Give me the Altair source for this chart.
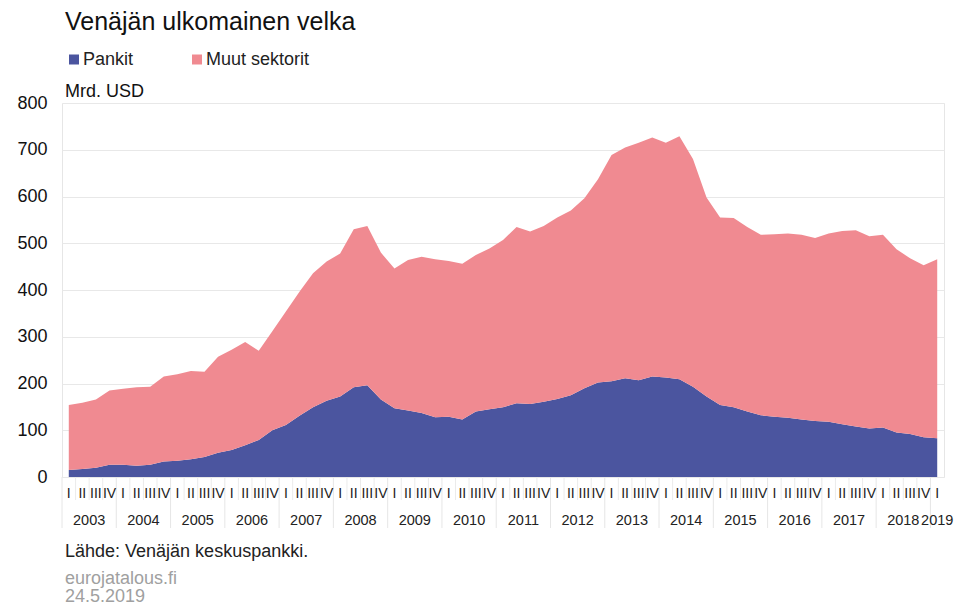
import altair as alt
import pandas as pd

FONT = "Liberation Sans"
BLUE = "#4B559F"
PINK = "#F08A91"

title_text = "Venäjän ulkomainen velka"
unit_text = "Mrd. USD"
source_text = "Lähde: Venäjän keskuspankki."
site_text = "eurojatalous.fi"
date_text = "24.5.2019"

quarters = ["I", "II", "III", "IV"]
years = ["2003", "2004", "2005", "2006", "2007", "2008", "2009", "2010", "2011",
         "2012", "2013", "2014", "2015", "2016", "2017", "2018", "2019"]
series = ["Pankit", "Muut sektorit"]

# quarterly values, 2003 Q1 ... 2019 Q1 (Mrd. USD)
pankit = [15, 17, 20, 26, 26, 24, 26, 33, 35, 38, 43, 52, 58, 68, 79, 100,
          111, 131, 149, 163, 172, 192, 196, 166, 147, 142, 137, 128, 129, 123, 140, 145,
          149, 158, 156, 161, 167, 175, 190, 202, 205, 211, 207, 215, 213, 209, 193, 172,
          154, 149, 140, 132, 129, 127, 123, 120, 118, 113, 108, 104, 106, 95, 92, 85,
          83]
muut = [139, 142, 146, 159, 163, 168, 167, 182, 185, 189, 182, 205, 214, 221, 191, 212,
        243, 265, 287, 298, 306, 338, 341, 314, 299, 322, 334, 338, 333, 333, 335, 344,
        358, 377, 369, 376, 388, 395, 406, 435, 484, 494, 508, 511, 502, 520, 487, 426,
        401, 405, 395, 386, 390, 394, 395, 391, 403, 413, 420, 411, 412, 392, 376, 368,
        383]

n = len(pankit)
rows = []
for i in range(n):
    rows.append({"i": i, "sarja": series[0], "arvo": pankit[i], "ord": 0})
    rows.append({"i": i, "sarja": series[1], "arvo": muut[i], "ord": 1})
df = pd.DataFrame(rows)

W, H = 882, 374
xscale = alt.Scale(domain=[-0.5, n - 0.5], nice=False, zero=False)

area = alt.Chart(df).mark_area(interpolate="linear", opacity=1, strokeWidth=0).encode(
    x=alt.X("i:Q", scale=xscale, axis=None),
    y=alt.Y("arvo:Q", stack="zero", scale=alt.Scale(domain=[0, 800], nice=False),
            axis=alt.Axis(values=list(range(0, 801, 100)), ticks=False, domain=False,
                          grid=True, gridColor="#e8e8e8", title=None, labelFontSize=18,
                          labelFont=FONT, labelColor="#111111", labelPadding=15)),
    color=alt.Color("sarja:N", scale=alt.Scale(domain=series, range=[BLUE, PINK]),
                    legend=alt.Legend(orient="none", legendX=3, legendY=-52.5,
                                      direction="horizontal", title=None,
                                      symbolType="square", symbolSize=100,
                                      symbolStrokeWidth=0, symbolOpacity=1,
                                      labelFontSize=18, labelFont=FONT,
                                      labelColor="#222222", columnPadding=54,
                                      padding=0, labelOffset=0)),
    order=alt.Order("ord:Q"),
)

# quarter labels (I, II, III, IV) under each quarter
qlab = pd.DataFrame({"i": list(range(n)), "q": [quarters[k % 4] for k in range(n)]})
quarter_text = alt.Chart(qlab).mark_text(font=FONT, fontSize=14, color="#222222",
                                         baseline="alphabetic", align="center").encode(
    x=alt.X("i:Q", scale=xscale, axis=None),
    y=alt.value(H + 21),
    text="q:N",
)

# year labels under the quarter labels
year_pos = [4 * k + 1.5 for k in range(len(years) - 1)] + [n - 1]
ydf = pd.DataFrame({"i": year_pos, "vuosi": years})
year_text = alt.Chart(ydf).mark_text(font=FONT, fontSize=14.5, color="#222222",
                                     baseline="alphabetic", align="center").encode(
    x=alt.X("i:Q", scale=xscale, axis=None),
    y=alt.value(H + 48),
    text="vuosi:N",
)

# separators in the label band
qdf = pd.DataFrame({"i": [k + 0.5 for k in range(n - 1) if k % 4 != 3]})
ysep = pd.DataFrame({"i": [-0.5] + [4 * k + 3.5 for k in range(len(years) - 1)]})
qlines = alt.Chart(qdf).mark_rule(color="#ebebeb", strokeWidth=1).encode(
    x=alt.X("i:Q", scale=xscale, axis=None), y=alt.value(H), y2=alt.value(H + 23))
ylines = alt.Chart(ysep).mark_rule(color="#e6e6e6", strokeWidth=1).encode(
    x=alt.X("i:Q", scale=xscale, axis=None), y=alt.value(H), y2=alt.value(H + 51))


def label(txt, y, size, color):
    return alt.Chart(pd.DataFrame({"t": [txt]})).mark_text(
        font=FONT, fontSize=size, color=color, align="left", baseline="alphabetic"
    ).encode(x=alt.value(3), y=alt.value(y), text="t:N")


title = label(title_text, -73, 25, "#111111")
unit = label(unit_text, -6, 18, "#111111")
source = label(source_text, H + 80, 18, "#222222")
site = label(site_text, H + 107, 18, "#a0a0a0")
date = label(date_text, H + 125, 18, "#a0a0a0")

chart = alt.layer(area, qlines, ylines, quarter_text, year_text, title, unit,
                  source, site, date).properties(
    width=W, height=H,
    autosize=alt.AutoSizeParams(type="none"),
    padding={"left": 62, "top": 103, "right": 15, "bottom": 130},
    background="white",
).configure_view(stroke="#e6e6e6")

chart.save("out.html", embed_options={"renderer": "svg", "actions": False})
